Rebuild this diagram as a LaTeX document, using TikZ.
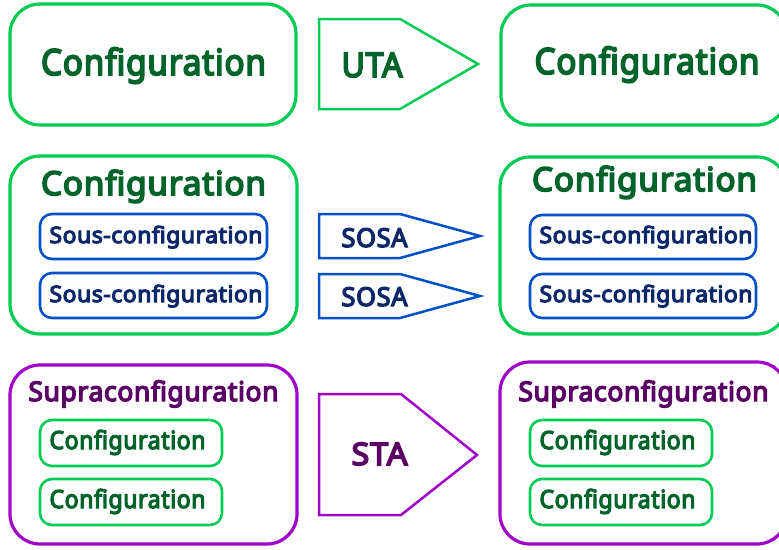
\documentclass[tikz,border=0pt]{standalone}
\usepackage{fontspec}
\setmainfont{Noto Sans}[BoldFont={Noto Sans},BoldFeatures={FakeBold=5,LetterSpace=2.5}]
\usepackage{graphicx}
\definecolor{gline}{RGB}{0,204,85}
\definecolor{gtext}{RGB}{0,100,42}
\definecolor{bline}{RGB}{0,80,200}
\definecolor{btext}{RGB}{12,40,105}
\definecolor{pline}{RGB}{160,0,200}
\definecolor{ptext}{RGB}{90,0,100}
\newcommand{\fitw}[2]{\resizebox{#1pt}{\height}{#2}}
\newcommand{\fsz}[1]{\fontsize{#1pt}{#1pt}\selectfont\bfseries}
\tikzset{
  bigbox/.style={draw=#1, line width=3.2pt, rounded corners=30pt, inner sep=0pt},
  subbox/.style={draw=#1, line width=2.6pt, rounded corners=12pt, inner sep=0pt},
  arrowshape/.style={draw=#1, line width=2.5pt, line join=miter},
  lbl/.style={text=#1, inner sep=0pt, anchor=base},
}
\begin{document}
\begin{tikzpicture}[x=1pt,y=-1pt]
\useasboundingbox (0,0) rectangle (779,549);
\clip (0,0) rectangle (779,549);
% ---------- Row 1 ----------
\node[bigbox=gline, minimum width=286pt, minimum height=121pt] (c1l) at (153,64.5) {};
\node[bigbox=gline, minimum width=286pt, minimum height=120pt] (c1r) at (644,65) {};
\node[lbl=gtext] (t1l) at (153.5,75) {\fsz{36}\fitw{225}{Configuration}};
\node[lbl=gtext] (t1r) at (647,74) {\fsz{36}\fitw{225}{Configuration}};
\draw[arrowshape=gline] (319,19) -- (400,19) -- (478,64) -- (400,109) -- (319,109) -- cycle;
\node[lbl=gtext] (uta) at (372,77) {\fsz{34}\fitw{61}{UTA}};
% ---------- Row 2 ----------
\node[bigbox=gline, minimum width=287pt, minimum height=178pt] (c2l) at (153.5,245) {};
\node[bigbox=gline, minimum width=287pt, minimum height=177pt] (c2r) at (643.5,245.5) {};
\node[lbl=gtext] (t2l) at (153.5,195) {\fsz{33}\fitw{225}{Configuration}};
\node[lbl=gtext] (t2r) at (644.5,191) {\fsz{33}\fitw{225}{Configuration}};
\node[subbox=bline, minimum width=227pt, minimum height=45pt] (s1l) at (153.5,236.5) {};
\node[subbox=bline, minimum width=227pt, minimum height=45pt] (s2l) at (153.5,295.5) {};
\node[subbox=bline, minimum width=226pt, minimum height=44pt] (s1r) at (643,237) {};
\node[subbox=bline, minimum width=226pt, minimum height=44pt] (s2r) at (643,296) {};
\node[lbl=btext] (u1l) at (156,243) {\fsz{22.5}\fitw{213}{Sous-configuration}};
\node[lbl=btext] (u2l) at (156,302) {\fsz{22.5}\fitw{213}{Sous-configuration}};
\node[lbl=btext] (u1r) at (646,243) {\fsz{22.5}\fitw{213}{Sous-configuration}};
\node[lbl=btext] (u2r) at (646,302) {\fsz{22.5}\fitw{213}{Sous-configuration}};
\draw[arrowshape=bline] (319,214) -- (400,214) -- (480,236) -- (400,258) -- (319,258) -- cycle;
\draw[arrowshape=bline] (319,274) -- (400,274) -- (480,296) -- (400,318) -- (319,318) -- cycle;
\node[lbl=btext] (sosa1) at (374.5,247) {\fsz{26}\fitw{66}{SOSA}};
\node[lbl=btext] (sosa2) at (374.5,306) {\fsz{26}\fitw{66}{SOSA}};
% ---------- Row 3 ----------
\node[bigbox=pline, minimum width=287pt, minimum height=179pt] (c3l) at (153.5,454.5) {};
\node[bigbox=pline, minimum width=287pt, minimum height=182pt] (c3r) at (643.5,453) {};
\node[lbl=ptext] (p3l) at (153.5,401) {\fsz{27}\fitw{250}{Supraconfiguration}};
\node[lbl=ptext] (p3r) at (643.5,401) {\fsz{27}\fitw{250}{Supraconfiguration}};
\node[subbox=gline, minimum width=182pt, minimum height=46pt] (g1l) at (131,443) {};
\node[subbox=gline, minimum width=182pt, minimum height=46pt] (g2l) at (131,502) {};
\node[subbox=gline, minimum width=182pt, minimum height=46pt] (g1r) at (621,443) {};
\node[subbox=gline, minimum width=182pt, minimum height=46pt] (g2r) at (621,502) {};
\node[lbl=gtext] (h1l) at (127.5,449) {\fsz{25}\fitw{156}{Configuration}};
\node[lbl=gtext] (h2l) at (127.5,508) {\fsz{25}\fitw{156}{Configuration}};
\node[lbl=gtext] (h1r) at (617.5,449) {\fsz{25}\fitw{156}{Configuration}};
\node[lbl=gtext] (h2r) at (617.5,508) {\fsz{25}\fitw{156}{Configuration}};
\draw[arrowshape=pline] (319,394) -- (401,394) -- (477,455) -- (401,515) -- (319,515) -- cycle;
\node[lbl=ptext] (sta) at (379.5,465) {\fsz{31}\fitw{56}{STA}};
\end{tikzpicture}
\end{document}
